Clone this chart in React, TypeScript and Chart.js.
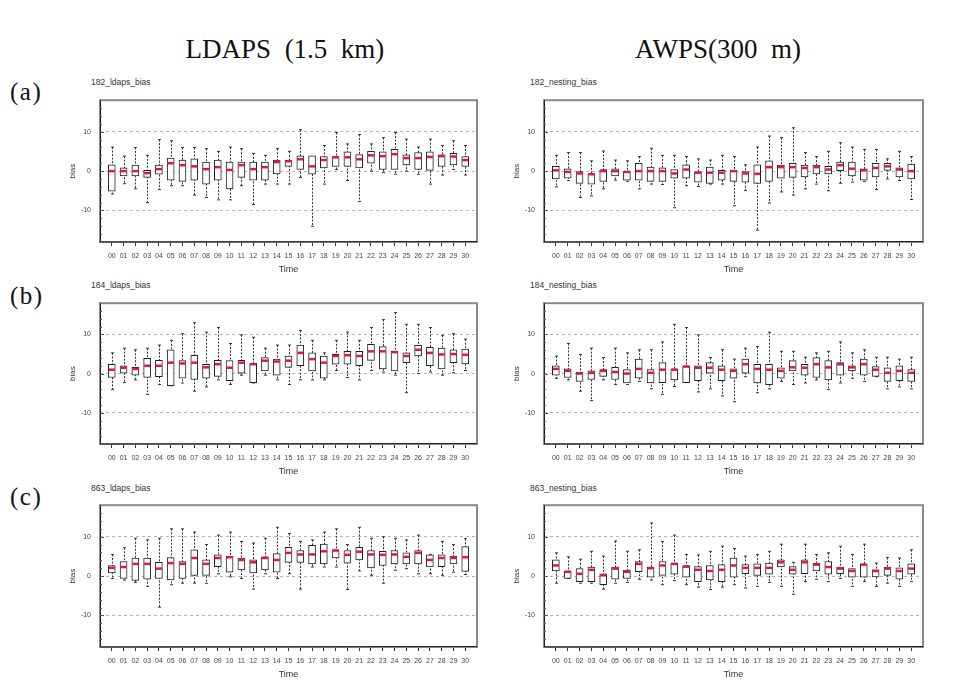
import React, { useEffect, useRef } from 'react';
import { Chart, registerables } from 'chart.js';

Chart.register(...registerables);

const TIME_LABELS = ['00','01','02','03','04','05','06','07','08','09','10','11','12','13','14','15','16','17','18','19','20','21','22','23','24','25','26','27','28','29','30'];
const Y_TICKS = [-10, 0, 10];
const Y_MIN = -18;
const Y_MAX = 18;

// (a) 182 LDAPS
const A_LDAPS_LO = [-5.8,-3.2,-4.5,-8,-4.7,-3.7,-3.7,-6.1,-6.7,-7.3,-7.3,-3.7,-8.5,-3.3,-3.3,-3.3,-1.6,-14,-3.3,0.4,-2.4,-7.7,0,-0.4,-0.8,0,-0.8,-3.3,-1,0.4,-1];
const A_LDAPS_Q1 = [-5.1,-1.2,-1.2,-1.6,-0.8,-2.3,-2.6,-2.3,-3.3,-2.3,-4.5,-1.6,-2.3,-2.3,-0.7,1.2,0.4,-0.8,0.8,1.2,1.2,0.8,2,0.4,0.4,1.6,0.4,0.2,1.2,1.6,1.2];
const A_LDAPS_MED = [0,0,0,-0.5,0.5,2,1.5,1.2,0.5,1,0.3,1.5,0.5,1,2.3,2.5,3,1.2,2.8,3.5,3.5,3,4,3.8,4.3,3.3,3.3,3.6,3.8,3.7,2.8];
const A_LDAPS_Q3 = [1.6,0.8,1.5,0.2,1.5,3.3,2.8,3.1,2.3,2.8,2.3,2.3,2.3,2.3,2.8,2.8,3.9,3.9,3.7,3.7,4.9,4.2,5,4.9,5.5,4.1,4.7,4.9,4.1,4.5,3.7];
const A_LDAPS_HI = [6.1,3.8,6,4,8,7.7,6,6,5.7,5,6.1,5.7,4.5,4,5.7,5,10.5,3.7,6.5,9.8,6.9,9.3,6.9,8.5,9.8,8.1,6.1,8.1,6.5,7.7,6.5];

// (a) 182 nesting
const A_NEST_LO = [-4,-2.4,-6.7,-6.3,-4.5,-2.3,-2.6,-4.5,-3.3,-3.4,-9.3,-3.7,-3.9,-3.3,-3.3,-8.8,-4.9,-15,-8.1,-5.3,-6.1,-4.5,-3.3,-5,-3.1,-2.8,-2.6,-4.7,-2,-2.4,-7.2];
const A_NEST_Q1 = [-2,-1.8,-3.1,-3.3,-2.6,-1.2,-2.3,-2.3,-2.6,-2.6,-1.8,-1.8,-2.8,-3.1,-2.3,-2.6,-2.8,-3.1,-2.6,-1.8,-1.6,-1.5,-0.7,-0.7,0,-1.2,-2.3,-1.5,0.2,-1.5,-2];
const A_NEST_MED = [0.2,-0.2,-0.6,-0.8,0,0,-0.2,0,0,0,-0.6,0.4,-0.4,-0.4,-0.4,0,-0.6,-0.7,1,1,1,0.8,1,0.4,1.5,0.6,0.2,0.8,1.2,0.4,0];
const A_NEST_Q3 = [1.2,0.6,0,-0.6,0.4,0.6,-0.2,2,1,0.8,0.4,1.6,-0.2,1,0.2,0.2,0,1.6,2.6,1.5,2,1.5,1.5,1.2,2.3,2.3,0.6,2,2,0.8,1.8];
const A_NEST_HI = [4,4.7,4.7,2.6,5.1,2.8,2.6,3.7,5.8,4,4,3.7,3.1,2.8,4,3.7,1.6,6.1,8.9,8.5,11,4.7,3.7,5,7.2,6.1,5.5,5.5,3.1,5,3.7];

// (b) 184 LDAPS
const B_LDAPS_LO = [-4.1,-2.3,-1.6,-5.3,-2.8,-3.1,-2.4,-4.5,-3.4,-1.6,-2.8,-0.4,-2.4,-0.4,-1.6,-2.8,-1.6,-1.6,-1.6,0.8,-1,-1.6,0.8,0.4,-0.4,-4.9,0,0.4,-0.4,0.2,0.8];
const B_LDAPS_Q1 = [-1,0,-0.4,-1,-0.8,-3.1,-1.2,-1.5,-1.2,-0.7,-1.8,0,-2.3,0.7,-0.4,1.6,2,0.7,-1.2,2.4,2.4,2,3.4,1.2,0.7,2.8,4.5,2,1.2,2.8,2.5];
const B_LDAPS_MED = [1,1.5,1.2,2,2,2.8,2.6,2.8,1.6,2.4,1.5,2.8,2.4,3.3,3.1,3.3,5.3,3.7,2.8,4.5,4.7,4.5,5.7,5.7,5.5,4.5,6.1,5.3,4.9,5,4.8];
const B_LDAPS_Q3 = [2.4,2,1.6,3.9,3.4,6.1,3.3,4.7,2.4,3.4,3.3,3.4,2.6,4.1,3.7,4.5,7.3,5.3,4.5,4.9,5.7,5.7,7.5,6.9,5.7,5.3,7.2,6.7,6.5,6.1,6.3];
const B_LDAPS_HI = [5.3,6.5,6.1,6.5,7.3,8.5,10.2,13,10.6,11.8,7.7,9.9,9.3,6.5,7.3,7.3,11,8.5,5.3,8.5,10.6,8.5,11.8,13.8,15.6,12.6,12.6,11.8,9.8,10.2,8.8];

// (b) 184 nesting
const B_NEST_LO = [-1.2,-1.6,-4.5,-6.9,-1.6,-2.8,-2.8,-2,-3.9,-5.3,-3.3,-2.3,-4.7,-3.9,-5.7,-7.2,-0.8,-4.9,-3.9,-2,-2.8,-2.4,-1.6,-4.1,-2.4,-1.2,-2,-0.8,-3.9,-3.4,-3.9];
const B_NEST_Q1 = [-0.4,-1,-2,-1.5,-0.7,-1.5,-2.4,-1.2,-2.4,-2.3,-1.6,-2.3,-1.8,0,-1.8,-1.2,0,-2.4,-2.8,-1.2,0.7,-0.4,-1,-1.6,-0.4,0.7,-0.4,-0.7,-2,-1.8,-2];
const B_NEST_MED = [1.2,0.7,0,0.2,0.7,0.4,0,1.2,0.2,1,1,1.8,1.5,1.5,1,0.7,2.4,1.2,1,0.7,1.6,1.5,2.4,1.6,2.4,1.6,2.4,1,0.2,0.7,0.2];
const B_NEST_Q3 = [2,1.2,0.4,0.7,1,1.6,1,3.7,1,2.8,1.2,2,2,2.8,2,1.2,3.7,2.4,2.4,1.5,3.3,2.4,4.1,3.3,2.8,2,3.7,1.8,1.5,2,1];
const B_NEST_HI = [4.5,7.7,4.9,6.5,4.1,6.5,5.3,6.1,6.1,8.1,12.6,11.8,9.9,4.1,6.1,3.7,6.5,6.9,10.6,5.7,5.7,4.2,5.3,5.7,8.1,5.3,6.1,4.2,4.2,3.7,4.2];

// (c) 863 LDAPS
const C_LDAPS_LO = [-0.6,-1,-1.6,-2.6,-7.9,-2.2,-1.8,-1.8,-1.8,0.6,-0.2,-0.6,-3.3,0.6,-0.6,0.6,-3.3,2.3,2.3,2.3,-3.4,1.3,0.2,-1.8,1.5,1.9,0.6,0.6,0.2,1,0.4];
const C_LDAPS_Q1 = [0.8,-0.6,-1.1,-0.8,-0.6,-1,-0.6,0.2,0.2,2.4,1,1.6,0.8,1.6,1,3.5,3.5,3.1,3.1,4.6,3.3,4.1,2.1,2.7,3.1,3.1,3.1,2.3,2.4,3.1,1.2];
const C_LDAPS_MED = [2.1,2.3,3.1,3.1,1.9,3.3,3.1,4.6,3.1,4.6,4.8,4.1,3.5,4.6,4.1,5.9,5.5,5.5,6.3,6.5,5.4,6.2,5.5,5.4,5.5,4.9,5.9,4.1,4.6,4.6,4.8];
const C_LDAPS_Q3 = [2.7,3.7,4.6,4.6,3.5,4.7,3.7,6.7,4.1,5.4,5,4.6,4.1,4.9,5.7,7.3,6.5,7.8,8.1,6.7,6.5,7.3,6.5,6.3,6.5,5.9,6.5,5.4,5.4,5.1,7.5];
const C_LDAPS_HI = [5.5,7.2,9.6,9.2,9.6,12,12,11.2,8,10.4,11.2,8.8,8.4,9.6,12.4,10.8,8.8,9.2,11.2,12,8,12.4,9.6,10,9.6,9.2,10.4,5.5,8.8,8,9.5];

// (c) 863 nesting
const C_NEST_LO = [-1.8,-0.6,-1.8,-1.8,-3.3,-1.8,-1.6,-0.8,-1,-2.2,-1.1,-2.2,-2.8,-3.4,-2.8,-2.2,-3,-2.6,-1.6,-2.6,-4.6,-1.4,-0.8,-1.4,-0.6,-2.6,-1.4,-2.6,-1.8,-2.6,-1.4];
const C_NEST_Q1 = [1.3,-0.6,-1.4,-1.4,-2.2,-0.8,-0.6,1.1,-0.3,0.2,0.5,-0.3,-1.4,-1,-1.4,-0.3,0.6,0.2,0.5,2.3,0.5,0.6,1.3,0.5,0.6,-0.3,-0.3,-0.2,0.2,-0.8,0.5];
const C_NEST_MED = [2.7,1.1,0.6,1.6,0.2,1.9,1.1,3.1,2,2.7,3.1,2.4,1.6,1.3,1.6,2.7,2.1,2.1,2.1,3.5,1.6,3.5,2.9,2.3,1.9,1.3,2.9,1.3,1.9,1.3,1.9];
const C_NEST_Q3 = [4.1,1.3,1.9,2.3,0.6,2.3,1.5,3.7,2.2,3.7,3.3,2.7,2.4,2.7,2.9,4.6,2.9,3.1,3.3,4.1,2.4,4.1,3.3,3.7,2.3,1.9,3.1,1.6,2.3,2.1,3.1];
const C_NEST_HI = [5.9,4.9,4.3,6.3,5.1,8.9,6.3,6.7,13.5,8.8,10.4,5.5,5.4,6.3,7.6,7,5.1,5.5,6.3,8.1,3.5,8.1,5.5,5.9,7.6,5.5,8.1,3.3,4.7,4.6,6.7];

const COLUMN_TITLES = ['LDAPS  (1.5  km)', 'AWPS(300  m)'];
const ROW_LETTERS = ['(a)', '(b)', '(c)'];

type Series = { lo: number[]; q1: number[]; med: number[]; q3: number[]; hi: number[] };

const PANELS: { title: string; col: number; row: number; s: Series }[] = [
  { title: '182_ldaps_bias', col: 0, row: 0, s: { lo: A_LDAPS_LO, q1: A_LDAPS_Q1, med: A_LDAPS_MED, q3: A_LDAPS_Q3, hi: A_LDAPS_HI } },
  { title: '182_nesting_bias', col: 1, row: 0, s: { lo: A_NEST_LO, q1: A_NEST_Q1, med: A_NEST_MED, q3: A_NEST_Q3, hi: A_NEST_HI } },
  { title: '184_ldaps_bias', col: 0, row: 1, s: { lo: B_LDAPS_LO, q1: B_LDAPS_Q1, med: B_LDAPS_MED, q3: B_LDAPS_Q3, hi: B_LDAPS_HI } },
  { title: '184_nesting_bias', col: 1, row: 1, s: { lo: B_NEST_LO, q1: B_NEST_Q1, med: B_NEST_MED, q3: B_NEST_Q3, hi: B_NEST_HI } },
  { title: '863_ldaps_bias', col: 0, row: 2, s: { lo: C_LDAPS_LO, q1: C_LDAPS_Q1, med: C_LDAPS_MED, q3: C_LDAPS_Q3, hi: C_LDAPS_HI } },
  { title: '863_nesting_bias', col: 1, row: 2, s: { lo: C_NEST_LO, q1: C_NEST_Q1, med: C_NEST_MED, q3: C_NEST_Q3, hi: C_NEST_HI } },
];

// layout geometry
const COLS = [
  { canvasLeft: 60, chartLeft: 100, chartRight: 477, subX: 91, titleX: 285 },
  { canvasLeft: 504, chartLeft: 544, chartRight: 923, subX: 530, titleX: 718 },
];
const ROWS = [
  { chartTop: 93, chartBottom: 242, subY: 82, letterY: 92 },
  { chartTop: 296, chartBottom: 444, subY: 285, letterY: 296 },
  { chartTop: 498, chartBottom: 647, subY: 488, letterY: 497 },
];
const CANVAS_W = 430;
const PAD_TOP = 6;
const X_AXIS_H = 37;

const SANS = '"Liberation Sans", Arial, sans-serif';
const SERIF = '"Liberation Serif", "Times New Roman", serif';

function makeBoxPlugin(s: Series) {
  return {
    id: 'boxExtras',
    beforeDatasetsDraw(chart: any) {
      const { ctx } = chart;
      const x = chart.scales.x, y = chart.scales.y;
      ctx.save();
      ctx.strokeStyle = '#333';
      ctx.lineWidth = 1;
      s.lo.forEach((lo, i) => {
        const px = Math.round(x.getPixelForValue(i)) + 0.5;
        const yl = y.getPixelForValue(lo);
        const yh = y.getPixelForValue(s.hi[i]);
        ctx.setLineDash([2, 1.5]);
        ctx.beginPath();
        ctx.moveTo(px, yh);
        ctx.lineTo(px, yl);
        ctx.stroke();
        ctx.setLineDash([]);
        ctx.beginPath();
        ctx.moveTo(px - 1.5, yh);
        ctx.lineTo(px + 1.5, yh);
        ctx.moveTo(px - 1.5, yl);
        ctx.lineTo(px + 1.5, yl);
        ctx.stroke();
      });
      ctx.restore();
    },
    afterDatasetsDraw(chart: any) {
      const { ctx, chartArea } = chart;
      const x = chart.scales.x, y = chart.scales.y;
      ctx.save();
      ctx.fillStyle = '#e3173e';
      s.med.forEach((m, i) => {
        const px = x.getPixelForValue(i);
        const py = y.getPixelForValue(m);
        ctx.fillRect(px - 3, py - 1.25, 6, 2.5);
      });
      const { left, right, top, bottom } = chartArea;
      ctx.strokeStyle = '#8a8a8a';
      ctx.lineWidth = 2;
      ctx.strokeRect(left, top, right - left, bottom - top);
      ctx.strokeStyle = '#222';
      ctx.lineWidth = 1;
      ctx.beginPath();
      ctx.moveTo(left + 0.5, top);
      ctx.lineTo(left + 0.5, bottom);
      ctx.lineTo(right, bottom - 0.5);
      ctx.stroke();
      ctx.strokeStyle = '#555';
      ctx.beginPath();
      for (let v = Y_MIN + 2; v < Y_MAX; v += 2) {
        const py = Math.round(y.getPixelForValue(v)) + 0.5;
        const len = v % 10 === 0 ? 4 : 2;
        ctx.moveTo(left, py);
        ctx.lineTo(left + len, py);
      }
      ctx.stroke();
      ctx.restore();
    },
  };
}

function Panel({ p }: { p: (typeof PANELS)[number] }) {
  const ref = useRef<HTMLCanvasElement | null>(null);
  const col = COLS[p.col];
  const row = ROWS[p.row];
  const plotH = row.chartBottom - row.chartTop;
  const canvasTop = row.chartTop - PAD_TOP;
  const canvasH = PAD_TOP + plotH + X_AXIS_H;
  const yAxisW = col.chartLeft - col.canvasLeft;
  const padRight = col.canvasLeft + CANVAS_W - col.chartRight;

  useEffect(() => {
    if (!ref.current) return;
    const s = p.s;
    const chart = new Chart(ref.current, {
      type: 'bar',
      data: {
        datasets: [
          {
            data: TIME_LABELS.map((_, i) => ({ x: i, y: [s.q1[i], s.q3[i]] })) as any,
            backgroundColor: '#ffffff',
            borderColor: '#222222',
            borderWidth: 1,
            borderSkipped: false,
            barThickness: 7,
          },
        ],
      },
      options: {
        animation: false,
        responsive: false,
        devicePixelRatio: 1,
        layout: { padding: { top: PAD_TOP, right: padRight, left: 0, bottom: 0 } },
        plugins: { legend: { display: false }, tooltip: { enabled: false }, title: { display: false } },
        scales: {
          x: {
            type: 'linear',
            min: -1,
            max: 31,
            offset: false,
            afterBuildTicks: (scale: any) => {
              scale.ticks = TIME_LABELS.map((_, i) => ({ value: i }));
            },
            afterFit: (scale: any) => {
              scale.height = X_AXIS_H;
            },
            grid: { display: true, offset: false, drawOnChartArea: false, drawTicks: true, tickLength: 4, color: '#333', lineWidth: 1 },
            border: { display: false },
            ticks: {
              autoSkip: false,
              maxRotation: 0,
              minRotation: 0,
              padding: 6,
              color: '#444',
              font: { family: SANS, size: 7 },
              callback: (v: any) => TIME_LABELS[v as number] ?? '',
            },
            title: { display: true, text: 'Time', color: '#333', font: { family: SANS, size: 9 }, padding: { top: 0, bottom: 4 } },
          },
          y: {
            type: 'linear',
            min: Y_MIN,
            max: Y_MAX,
            afterBuildTicks: (scale: any) => {
              scale.ticks = Y_TICKS.map((v) => ({ value: v }));
            },
            afterFit: (scale: any) => {
              scale.width = yAxisW;
            },
            grid: { color: '#b5b5b5', lineWidth: 1, drawTicks: false },
            border: { display: false, dash: [3, 3] },
            ticks: { padding: 9, color: '#444', font: { family: SANS, size: 7 }, callback: (v: any) => String(v) },
            title: { display: true, text: 'bias', color: '#333', font: { family: SANS, size: 8 }, padding: { top: 8, bottom: 0 } },
          },
        },
      } as any,
      plugins: [makeBoxPlugin(s)],
    });
    return () => chart.destroy();
  }, []);

  return (
    <>
      <div
        style={{
          position: 'absolute',
          left: col.subX,
          top: row.subY - 5,
          fontFamily: SANS,
          fontSize: 8.5,
          lineHeight: '10px',
          color: '#333',
          whiteSpace: 'pre',
        }}
      >
        {p.title}
      </div>
      <canvas
        ref={ref}
        width={CANVAS_W}
        height={canvasH}
        style={{ position: 'absolute', left: col.canvasLeft, top: canvasTop, width: CANVAS_W, height: canvasH }}
      />
    </>
  );
}

export default function App() {
  return (
    <div style={{ position: 'fixed', left: 0, top: 0, width: 961, height: 698, background: '#fff', overflow: 'hidden' }}>
      {COLUMN_TITLES.map((t, i) => (
        <div
          key={t}
          style={{
            position: 'absolute',
            left: COLS[i].titleX - 150,
            width: 300,
            top: 36,
            textAlign: 'center',
            fontFamily: SERIF,
            fontSize: 27,
            lineHeight: '27px',
            color: '#111',
            whiteSpace: 'pre',
          }}
        >
          {t}
        </div>
      ))}
      {ROW_LETTERS.map((l, i) => (
        <div
          key={l}
          style={{
            position: 'absolute',
            left: 10,
            top: ROWS[i].letterY - 13,
            fontFamily: SERIF,
            fontSize: 25,
            lineHeight: '25px',
            letterSpacing: 1.5,
            color: '#111',
          }}
        >
          {l}
        </div>
      ))}
      {PANELS.map((p) => (
        <Panel key={p.title} p={p} />
      ))}
    </div>
  );
}
